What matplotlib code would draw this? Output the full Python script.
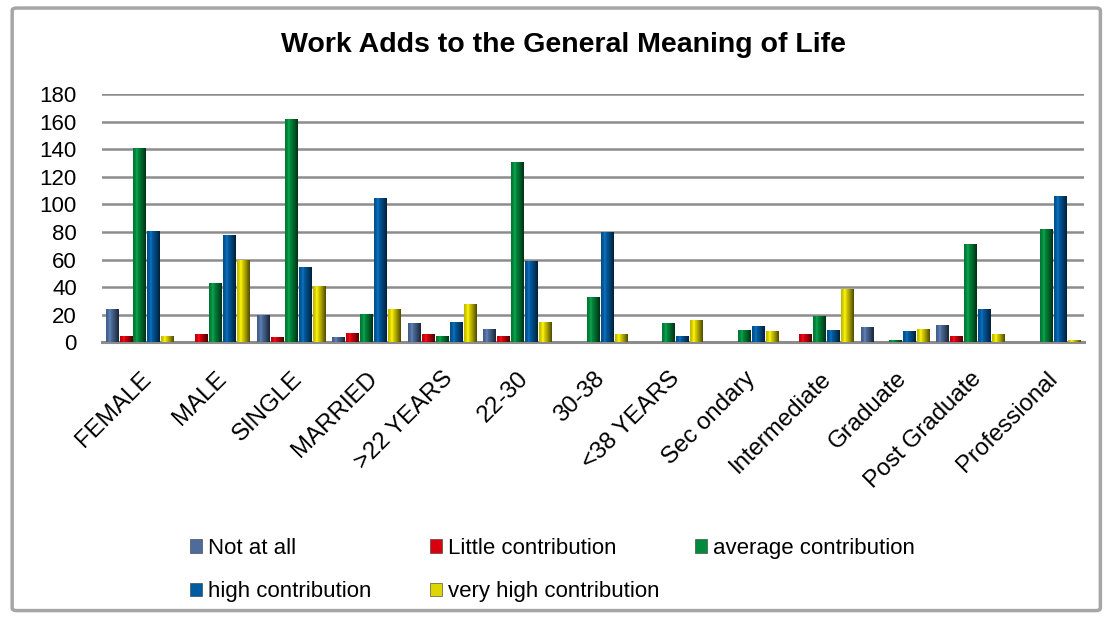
import numpy as np
import matplotlib.pyplot as plt
from matplotlib.patches import Patch, FancyBboxPatch
from matplotlib.colors import to_rgb

plt.rcParams['font.family'] = ['Liberation Sans', 'DejaVu Sans']

categories = ["FEMALE", "MALE", "SINGLE", "MARRIED", ">22 YEARS", "22-30", "30-38",
              "<38 YEARS", "Sec ondary", "Intermediate", "Graduate", "Post Graduate",
              "Professional"]
series_names = ["Not at all", "Little contribution", "average contribution",
                "high contribution", "very high contribution"]

not_at_all = [24, 0, 20, 4, 14, 10, 0, 0, 0, 0, 11, 13, 0]
little = [5, 6, 4, 7, 6, 5, 0, 0, 0, 6, 0, 5, 0]
average = [141, 43, 162, 21, 5, 131, 33, 14, 9, 19, 2, 71, 82]
high = [81, 78, 55, 105, 15, 59, 80, 5, 12, 9, 8, 24, 106]
very_high = [5, 60, 41, 24, 28, 15, 6, 16, 8, 39, 10, 6, 2]

series = [not_at_all, little, average, high, very_high]
colors = ["#4d6c9c", "#d8000c", "#008a3c", "#005ca2", "#ded600"]

fig = plt.figure(figsize=(11.07, 6.18), dpi=100)

# outer chart frame
frame = FancyBboxPatch((0.011, 0.012), 0.983, 0.975, boxstyle="round,pad=0,rounding_size=0.004",
                       transform=fig.transFigure, facecolor="white", edgecolor="#a6a6a6",
                       linewidth=2.5, zorder=-5)
fig.patches.append(frame)

ax = fig.add_axes([0.0921, 0.4458, 0.8871, 0.4021])
ax.set_facecolor("none")

x = np.arange(len(categories))
step = 0.185
width = 0.165


def shade(ax, bar, color):
    # cylinder-like horizontal gradient inside each bar
    x0, y0 = bar.get_x(), bar.get_y()
    w, h = bar.get_width(), bar.get_height()
    if h <= 0:
        return
    base = np.array(to_rgb(color))
    t = np.linspace(0, 1, 32)
    k = np.interp(t, [0, 0.3, 0.6, 1.0], [0.85, 1.08, 0.8, 0.35])
    grad = np.clip(base[None, :] * k[:, None] + (k[:, None] > 1) * 0.05, 0, 1)
    img = ax.imshow(grad[None, :, :], extent=(x0, x0 + w, y0, y0 + h), aspect="auto",
                    interpolation="bilinear", zorder=3)
    img.set_clip_path(bar)


for j, (vals, col) in enumerate(zip(series, colors)):
    bars = ax.bar(x + (j - 2) * step, vals, width, color=col, zorder=2, linewidth=0)
    for b in bars:
        shade(ax, b, col)

ax.set_xlim(-0.5, len(categories) - 0.5)
ax.set_ylim(0, 180)
ax.set_yticks(range(0, 181, 20))
ax.yaxis.grid(True, color="#8c8c8c", linewidth=1.8)
ax.set_axisbelow(True)
for s in ["left", "right", "top"]:
    ax.spines[s].set_visible(False)
ax.spines["bottom"].set_color("#8c8c8c")
ax.spines["bottom"].set_linewidth(2.2)
ax.tick_params(axis="both", length=0, labelsize=16)
ax.tick_params(axis="y", pad=18)
ax.set_xticks(x)
ax.set_xticklabels(categories, rotation=45, ha="right", va="top", rotation_mode="anchor",
                   fontsize=17.3)
ax.tick_params(axis="x", pad=18)

fig.text(0.5086, 0.927, "Work Adds to the General Meaning of Life", ha="center", va="center",
         fontsize=20.5, fontweight="bold")

handles = [Patch(facecolor=c, edgecolor="#333333", linewidth=0.4) for c in colors]
columns = [(190, [0, 3]), (430, [1, 4]), (695, [2])]
for px, idx in columns:
    fig.legend([handles[i] for i in idx], [series_names[i] for i in idx],
               loc="upper left", bbox_to_anchor=(px / 1107, 1 - 538 / 618),
               frameon=False, fontsize=16, handlelength=0.55, handleheight=0.55,
               handletextpad=0.25, labelspacing=1.0, borderpad=0, borderaxespad=0)

fig.savefig("out.png", dpi=100)
